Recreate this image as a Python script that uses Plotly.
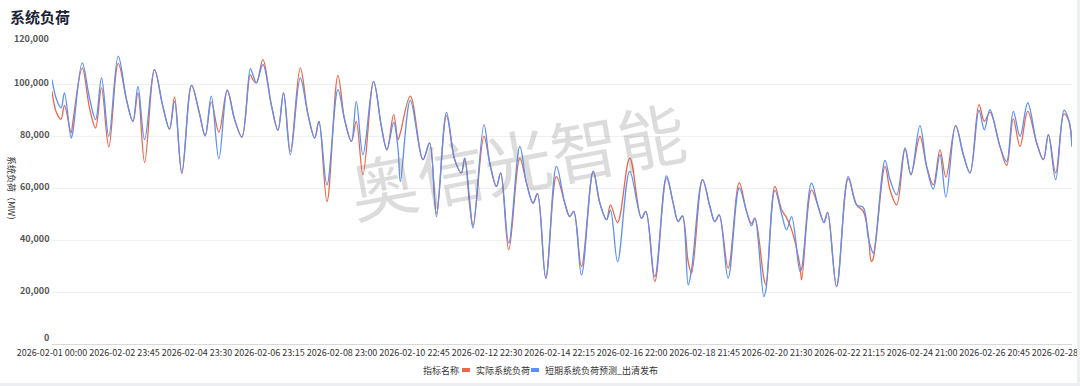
import pandas as pd
import plotly.graph_objects as go

# ---------------- data ----------------
start_time = "2026-02-01 00:00"

hour_offsets = [
    0.0, 3.0, 6.0, 8.2, 12.6, 13.7, 19.9, 24.7, 28.7, 32.6, 37.4, 43.6, 49.3, 53.3, 56.6,
    61.0, 67.5, 73.0, 77.4, 80.7, 85.5, 91.9, 96.8, 100.9, 104.9, 109.9, 115.4, 120.3, 125.1,
    130.6, 132.3, 134.6, 138.9, 144.4, 148.8, 152.5, 157.0, 163.5, 168.6, 173.0, 175.8, 181.1,
    188.3, 192.7, 197.2, 200.4, 204.8, 211.8, 216.9, 220.6, 225.0, 227.9, 229.4, 236.0, 244.3,
    248.7, 253.2, 259.8, 265.2, 269.6, 271.8, 275.1, 277.3, 284.5, 288.3, 292.7, 295.5, 300.8,
    308.1, 312.5, 316.8, 319.7, 325.2, 332.2, 337.7, 341.0, 343.6, 348.7, 356.4, 360.8, 365.2,
    367.8, 372.5, 380.5, 388.2, 391.1, 397.0, 404.7, 409.1, 412.4, 415.2, 419.0, 421.2, 428.4,
    433.3, 436.5, 439.4, 445.3, 452.6, 457.4, 460.7, 462.9, 468.8, 470.2, 476.1, 480.5, 483.8,
    487.1, 492.6, 493.7, 500.2, 504.6, 508.4, 510.8, 516.7, 524.4, 529.9, 534.3, 537.6, 539.6,
    540.9, 548.6, 551.9, 556.3, 561.8, 565.7, 571.6, 576.0, 580.4, 584.8, 588.7, 595.1, 600.2,
    604.6, 610.5, 614.0, 617.7, 624.3, 628.7, 633.1, 637.5, 642.6, 648.5, 652.9, 656.2, 661.0,
    666.5, 669.8, 671.75,
]

actual_load_mw = [
    97200, 88900, 86500, 91800, 81200, 85200, 106200, 90800, 83100, 98500, 75800, 107900, 93300, 85600, 96600,
    69800, 105500, 91400, 82700, 95000, 65500, 99500, 89500, 80100, 93000, 81500, 97600, 86300, 79600,
    103600, 101700, 100400, 109400, 92100, 82200, 96600, 74100, 106200, 88200, 79200, 85600, 54800,
    103200, 86300, 77900, 85600, 65100, 101000, 83700, 74700, 88200, 78600, 81200, 95300, 70900,
    77300, 50300, 87800, 70900, 65800, 71500, 52900, 45500, 79900, 69600, 60600, 65800, 36200,
    71500, 61900, 54200, 57800, 25300, 64400, 54200, 49000, 51000, 29800, 66400, 54200, 47800,
    53500, 46700, 71500, 48400, 51000, 24000, 63800, 54200, 47100, 49300, 31500, 27200, 63200,
    52900, 47100, 49700, 29200, 62100, 51000, 46400, 48400, 25300, 22700, 60600, 51600, 48500,
    44000, 30000, 24700, 59300, 52900, 46700, 50600, 22100, 63500, 53500, 51000, 42000, 31700,
    33000, 68300, 59300, 53500, 75000, 65100, 79900, 68300, 61200, 74700, 64200, 84000, 72800,
    65800, 92100, 85600, 89100, 76000, 68600, 86600, 76000, 89500, 77300, 70900, 80500, 65800,
    88500, 85600, 76000,
]

forecast_load_mw = [
    101700, 94000, 90800, 96600, 79200, 81500, 108100, 94600, 86300, 102300, 79900, 110700, 93300, 85600, 99100,
    78600, 105500, 91400, 82700, 93300, 66000, 99500, 89500, 80100, 95300, 71200, 97600, 86300, 79600,
    105900, 103600, 100400, 107500, 92100, 82200, 96600, 72800, 102300, 88200, 79200, 85600, 61200,
    97800, 86300, 77900, 93300, 72800, 101000, 83700, 74700, 85200, 75000, 62500, 93700, 70900,
    77300, 49000, 89100, 70900, 65800, 71500, 55000, 44600, 84400, 69600, 60600, 65800, 38800,
    76000, 61900, 54200, 57800, 25300, 68300, 54200, 49000, 51000, 26600, 66400, 54200, 47800,
    51500, 31700, 66400, 48400, 51000, 25900, 64700, 54200, 47100, 49300, 22700, 28500, 63200,
    52900, 47100, 49700, 25300, 60000, 51000, 45500, 48400, 18200, 21000, 59100, 50000, 43900,
    49000, 27900, 29000, 61900, 52900, 46700, 50600, 22100, 64400, 53500, 52500, 40700, 36500,
    34900, 70600, 63200, 57400, 75400, 65100, 84000, 68300, 59600, 72800, 56500, 84000, 72800,
    65800, 89900, 82400, 90100, 76000, 70200, 89500, 79900, 92700, 77300, 70900, 80500, 63200,
    89900, 85600, 76000,
]

series_names = ["实际系统负荷", "短期系统负荷预测_出清发布"]
series_colors = ["#E8684A", "#5B8FF9"]

x_tick_labels = [
    "2026-02-01 00:00", "2026-02-02 23:45", "2026-02-04 23:30", "2026-02-06 23:15",
    "2026-02-08 23:00", "2026-02-10 22:45", "2026-02-12 22:30", "2026-02-14 22:15",
    "2026-02-16 22:00", "2026-02-18 21:45", "2026-02-20 21:30", "2026-02-22 21:15",
    "2026-02-24 21:00", "2026-02-26 20:45", "2026-02-28 20:30",
]
y_tick_values = [0, 20000, 40000, 60000, 80000, 100000, 120000]

title_text = "系统负荷"
y_title_text = "系统负荷（MW）"
legend_title_text = "指标名称"
watermark_text = "奥信光智能"

# ---------------- layout helpers ----------------
W, H = 1080, 386
ML, MR, MT, MB = 52, 8, 32, 42
PW, PH = W - ML - MR, H - MT - MB
CJK = "Noto Sans CJK SC"
OUTER = "#eceef1"


def px_x(px):
    return (px - ML) / PW


def px_y(py):
    return (H - MB - py) / PH


t0 = pd.Timestamp(start_time)
times = [t0 + pd.Timedelta(hours=h) for h in hour_offsets]

fig = go.Figure()
for name, vals, col in zip(series_names, [actual_load_mw, forecast_load_mw], series_colors):
    fig.add_trace(go.Scatter(
        x=times, y=vals, name=name, mode="lines",
        line=dict(color=col, width=1.3, shape="spline", smoothing=1.0),
        showlegend=False,
    ))

shapes = [
    # white card
    dict(type="rect", xref="paper", yref="paper", layer="below",
         x0=px_x(0), x1=px_x(1077), y0=px_y(383), y1=px_y(0),
         fillcolor="white", line=dict(width=0)),
    # right border strip (clips overflowing last tick label)
    dict(type="rect", xref="paper", yref="paper", layer="above",
         x0=px_x(1077), x1=px_x(1080), y0=px_y(386), y1=px_y(0),
         fillcolor=OUTER, line=dict(width=0)),
]

annotations = [
    dict(text=f"<b>{title_text}</b>", xref="paper", yref="paper", x=px_x(8), y=px_y(17),
         xanchor="left", yanchor="middle", showarrow=False,
         font=dict(family=CJK, size=15, color="#1c2438")),
    dict(text=y_title_text, xref="paper", yref="paper", x=px_x(12), y=px_y(190),
         xanchor="center", yanchor="middle", showarrow=False, textangle=90,
         font=dict(family=CJK, size=9, color="#333333")),
    dict(text=watermark_text, xref="paper", yref="paper", x=px_x(517), y=px_y(158),
         xanchor="center", yanchor="middle", showarrow=False, textangle=-10.5,
         font=dict(family=CJK, size=68, color="rgba(110,110,110,0.24)")),
    dict(text=legend_title_text, xref="paper", yref="paper", x=px_x(421), y=px_y(370),
         xanchor="left", yanchor="middle", showarrow=False,
         font=dict(family=CJK, size=9, color="#333333")),
]

# y tick labels (end labels nudged inward as in the reference)
for v in y_tick_values:
    shift = 7 if v == y_tick_values[0] else (-6.5 if v == y_tick_values[-1] else 1.5)
    annotations.append(dict(text=f"{v:,}", xref="paper", yref="y", x=px_x(51), y=v,
                            yshift=shift, xanchor="right", yanchor="middle", showarrow=False,
                            font=dict(family=CJK, size=9, color="#555555", weight="bold")))

# manual legend entries
legend_items = [(462, 474), (531, 543)]
for (mx, tx), name, col in zip(legend_items, series_names, series_colors):
    shapes.append(dict(type="rect", xref="paper", yref="paper", layer="above",
                       x0=px_x(mx), x1=px_x(mx + 8), y0=px_y(372), y1=px_y(368),
                       fillcolor=col, line=dict(width=0)))
    annotations.append(dict(text=name, xref="paper", yref="paper", x=px_x(tx), y=px_y(370),
                            xanchor="left", yanchor="middle", showarrow=False,
                            font=dict(family=CJK, size=9, color="#333333")))

fig.update_layout(
    width=W, height=H,
    margin=dict(l=ML, r=MR, t=MT, b=MB, autoexpand=False),
    paper_bgcolor=OUTER,
    plot_bgcolor="rgba(0,0,0,0)",
    showlegend=False,
    shapes=shapes,
    annotations=annotations,
    xaxis=dict(
        type="date",
        automargin=False,
        range=[t0, t0 + pd.Timedelta(hours=671.75)],
        tickvals=pd.to_datetime(x_tick_labels),
        ticktext=x_tick_labels,
        showgrid=False, zeroline=False,
        showline=True, linecolor="#d9d9d9", linewidth=1,
        ticks="", tickangle=0,
        ticklabeloverflow="allow",
        tickfont=dict(family=CJK, size=9, color="#333333"),
    ),
    yaxis=dict(
        automargin=False,
        range=[0, 120000],
        tickvals=y_tick_values,
        showgrid=True, gridcolor="#f0f0f0", gridwidth=1,
        zeroline=False, showline=False, ticks="",
        showticklabels=False,
    ),
    font=dict(family=CJK),
)

fig.write_html("out.html")
